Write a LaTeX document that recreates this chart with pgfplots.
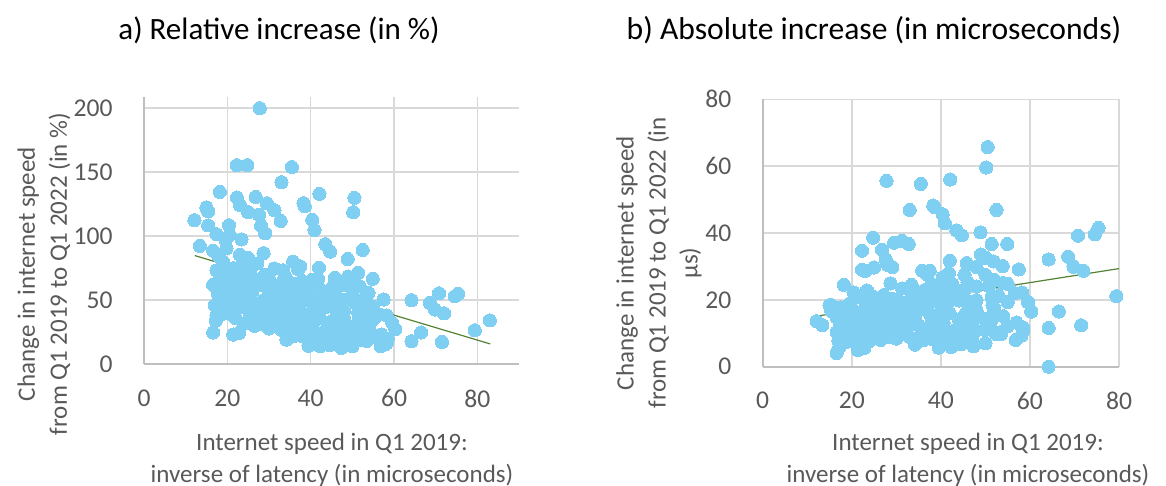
\documentclass[border=0pt]{standalone}
\usepackage{pgfplots}
\usepackage{pgfplotstable}
\pgfplotsset{compat=1.18}
\usepackage{fontspec}
\setmainfont{Carlito}
\definecolor{ptblue}{RGB}{127,207,242}
\definecolor{trendgreen}{RGB}{84,130,53}
\definecolor{gridgray}{RGB}{217,217,217}
\definecolor{axisgray}{RGB}{191,191,191}
\definecolor{txtgray}{RGB}{89,89,89}
\pgfplotsset{
  myaxis/.style={
    scale only axis,
    anchor=south west,
    axis lines*=left,
    axis line style={draw=axisgray, line width=0.9pt},
    grid=major,
    major grid style={draw=gridgray, line width=0.8pt},
    tick style={draw=none},
    major tick length=0pt,
    ticklabel style={font=\fontsize{12.8}{14}\selectfont, text=txtgray},
    /pgf/number format/assume math mode=true,
    yticklabel style={anchor=east, inner sep=0pt, xshift=-15.5pt},
    xticklabel style={anchor=north, inner sep=0pt, yshift=-12.5pt},
  },
  pts/.style={only marks, mark=*, mark size=3.3pt, mark options={fill=ptblue, draw=ptblue, line width=0pt}},
  trend/.style={trendgreen, line width=0.6pt, no marks},
}
\pgfplotstableread{
x rel abs
27.8 200 55.6
22.3 155.5 34.7
24.8 155.5 38.6
35.5 154 54.7
33.0 142.2 46.9
42.1 133.1 56.0
18.2 134.6 24.5
22.3 130.2 29.0
26.8 130.7 35.0
50.5 130 65.7
50.2 118.8 59.6
38.3 125.8 48.2
38.6 123.5 47.7
15.0 122.4 18.4
15.4 119.5 18.4
23.0 124.5 28.6
25.0 118.8 29.7
29.5 125.8 37.1
31.3 120.3 37.7
32.8 112 36.7
12.1 112.5 13.6
15.4 108.5 16.7
20.4 108.6 22.2
27.6 116.7 32.2
28.1 108.3 30.4
29.1 102.3 29.8
40.4 112.8 45.6
40.9 104.9 42.9
17.4 101.6 17.7
19.6 97 19.0
23.4 97.5 22.8
13.4 92.4 12.4
43.5 93.8 40.8
44.7 88 39.3
52.5 89.3 46.9
48.9 82.2 40.2
16.6 88.7 14.7
28.7 86.8 24.9
23.0 85.6 19.7
19.8 90.6 17.9
20.6 101 20.8
35.8 80.2 28.7
37.5 76.5 28.7
42.0 75.4 31.7
31.3 74.8 23.4
33.4 73.4 24.5
27.2 78.8 21.4
54.9 66.8 36.7
45.8 67.6 31.0
51.4 71.4 36.7
49.0 68.5 33.6
40.4 66 26.7
50.2 64.7 32.5
51.8 60.9 31.5
53.9 55.8 30.1
45.3 60.7 27.5
57.5 50.6 29.1
64.2 50 32.1
68.6 48 32.9
70.8 55.4 39.2
74.6 53.1 39.6
75.4 55.1 41.5
69.8 42.8 29.9
72.0 39.8 28.7
83.0 34.3 nan
79.4 26.6 21.1
66.5 24.8 16.5
64.2 18 11.6
71.5 17.4 12.4
56.6 38.8 22.0
58.2 38.2 22.2
59.6 32.3 19.3
60.3 27.4 16.5
57.0 23.2 13.2
58.4 18 10.5
56.8 14.1 8.0
53.4 19.3 10.3
50.0 14 7.0
47.3 12.8 6.1
51.6 29.7 15.3
51.6 35.6 18.4
51.4 40.5 20.8
48.0 41.4 19.9
46.0 42.7 19.6
46.4 29.7 13.8
47.9 22.5 10.8
43.8 20.6 9.0
42.3 14 5.9
42.5 18.3 7.8
45.2 50 22.6
50.8 47.4 24.1
37.4 42.7 16.0
37.4 29.7 11.1
40.6 32.3 13.1
41.4 45.3 18.8
39.0 52.9 20.6
42.6 57.8 24.6
39.0 57.8 22.5
34.6 52.6 18.2
31.8 50 15.9
28.6 50 14.3
26.2 48.7 12.8
34.2 19.3 6.6
37.0 27.1 10.0
39.0 24.5 9.6
38.0 21.8 8.3
39.4 18.5 7.3
16.6 24.8 4.1
21.4 23.2 5.0
22.8 24.4 5.6
17.2 34 5.8
18.7 41.7 7.8
17.7 55 9.7
16.6 62 10.3
18.6 59.1 11.0
20.8 64.3 13.4
23.0 68.2 15.7
25.4 72.1 18.3
17.4 73.4 12.8
18.2 66.9 12.2
36.6 63 23.1
33.4 65.6 21.9
30.2 61.7 18.6
27.4 65.6 18.0
24.6 60.4 14.9
23.0 52.6 12.1
20.6 50 10.3
22.2 43.5 9.7
17.4 38.3 6.7
19.0 39.6 7.5
20.6 39.6 8.2
25.4 38.3 9.7
27.8 31.8 8.8
31.8 35.7 11.4
34.2 42.2 14.4
35.0 35.7 12.5
39.0 50 19.5
41.4 47.4 19.6
43.8 50 21.9
41.8 66.9 28.0
32.1 33.6 10.8
28.0 31.4 8.8
25.6 36.3 9.3
45.5 34.7 15.8
46.7 29.5 13.8
43.9 52 22.8
46.0 55 25.3
37.0 74.3 27.5
52.0 33.7 17.5
51.2 26 13.3
52.4 18.7 9.8
53.5 18.3 9.8
58.1 16 9.3
58.5 20 11.7
54.0 46.3 25.0
19.5 70 13.7
21.5 75 16.1
22.0 60 13.2
24.0 65 15.6
26.0 57 14.8
28.0 62 17.4
29.0 70 20.3
30.0 55 16.5
32.0 60 19.2
33.0 56 18.5
35.0 58 20.3
36.0 48 17.3
38.0 55 20.9
40.0 60 24.0
42.0 52 21.8
44.0 45 19.8
24.0 45 10.8
26.0 42 10.9
28.0 40 11.2
30.0 44 13.2
32.0 45 14.4
34.0 38 12.9
36.0 32 11.5
38.0 36 13.7
40.0 40 16.0
42.0 38 16.0
44.0 32 14.1
46.0 36 16.6
48.0 35 16.8
30.0 28 8.4
33.0 27 8.9
35.0 25 8.8
38.0 30 11.4
40.0 28 11.2
41.0 22 9.0
43.0 25 10.8
45.0 24 10.8
47.0 18 8.5
44.5 15 6.7
36.0 22 7.9
39.5 14.5 5.7
25.0 52 13.0
21.0 55 11.6
19.0 47 8.9
17.0 46 7.8
22.0 36 7.9
24.0 32 7.7
26.5 30 8.0
29.0 36 10.4
31.0 40 12.4
33.0 48 15.8
37.0 50 18.5
21.0 68 14.3
23.0 76 17.5
25.0 83 20.8
19.0 80 15.2
18.0 84 15.1
26.0 67 17.4
30.0 66 19.8
34.0 68 23.1
38.0 65 24.7
48.0 50 24.0
50.0 55 27.5
52.0 50 26.0
55.0 45 24.8
53.0 40 21.2
55.0 35 19.3
49.0 30 14.7
54.0 28 15.1
50.0 22 11.0
55.0 22 12.1
48.0 62 29.8
64.2 nan 0
}\data
\begin{document}
\begin{tikzpicture}
\path[use as bounding box] (0,0) rectangle (583pt,243pt);
\begin{axis}[myaxis, at={(72pt,60.85pt)}, width=187.5pt, height=133.8pt,
  xmin=0, xmax=90, ymin=0, ymax=209,
  xtick={0,20,40,60,80}, ytick={0,50,100,150,200}]
\addplot[pts] table[x=x, y=rel] {\data};
\addplot[trend] coordinates {(12.2,84.9) (83.1,15.9)};
\end{axis}
\begin{axis}[myaxis, at={(381.35pt,59.65pt)}, width=178.15pt, height=133.7pt,
  xmin=0, xmax=80, ymin=0, ymax=80,
  xtick={0,20,40,60,80}, ytick={0,20,40,60,80}]
\addplot[pts] table[x=x, y=abs] {\data};
\addplot[trend] coordinates {(12,15.1) (80,29.35)};
\end{axis}
\node[font=\fontsize{15.5}{18}\selectfont, text=black] at (139.5pt,228pt) {a) Relative increase (in \%)};
\node[font=\fontsize{15.8}{18}\selectfont, text=black] at (437pt,228pt) {b) Absolute increase (in microseconds)};
\node[rotate=90, align=center, font=\fontsize{12.5}{16}\selectfont, text=txtgray] at (22pt,106pt)
  {Change in internet speed\\from Q1 2019 to Q1 2022 (in \%)};
\node[rotate=90, align=center, font=\fontsize{12.5}{16}\selectfont, text=txtgray] at (329.5pt,111.5pt)
  {Change in internet speed\\from Q1 2019 to Q1 2022 (in\\µs)};
\node[align=center, font=\fontsize{12.5}{16}\selectfont, text=txtgray] at (166pt,13pt)
  {Internet speed in Q1 2019:\\inverse of latency (in microseconds)};
\node[align=center, font=\fontsize{12.5}{16}\selectfont, text=txtgray] at (484pt,13pt)
  {Internet speed in Q1 2019:\\inverse of latency (in microseconds)};
\end{tikzpicture}
\end{document}
